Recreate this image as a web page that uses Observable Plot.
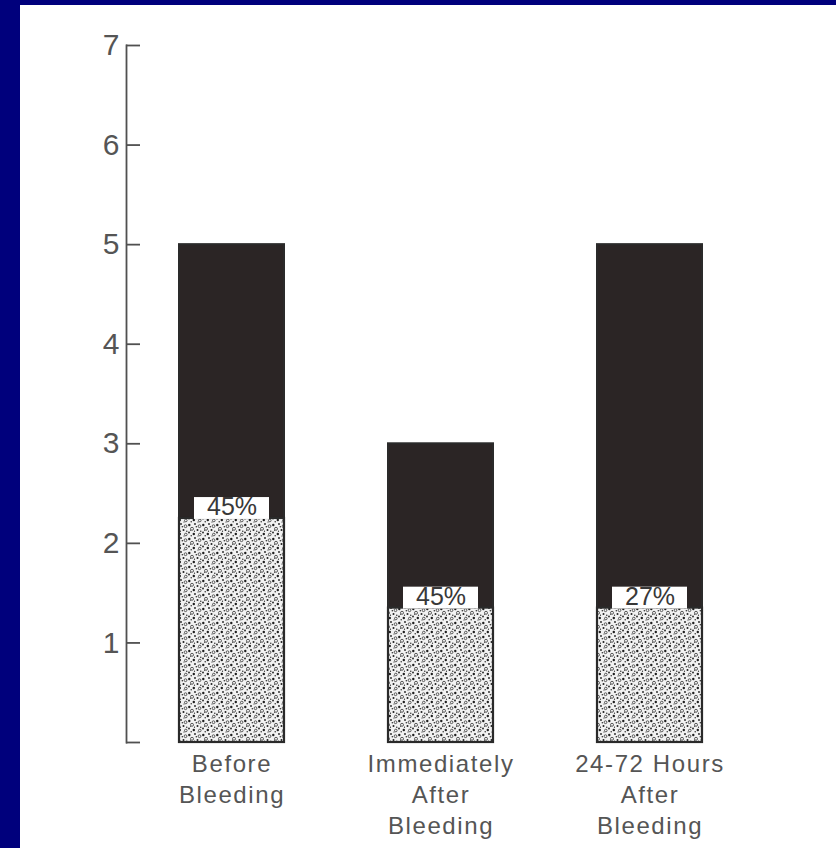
<!DOCTYPE html>
<html>
<head>
<meta charset="utf-8">
<script src="https://cdn.jsdelivr.net/npm/d3@7"></script>
<script src="https://cdn.jsdelivr.net/npm/@observablehq/plot@0.6"></script>
<style>
  html, body { margin: 0; padding: 0; background: #00007c; width: 836px; height: 848px; overflow: hidden; }
  #panel { position: absolute; left: 20px; top: 5px; width: 816px; height: 843px; background: #ffffff; }
  #panel svg g[aria-label="x-axis tick label"] text { letter-spacing: 1.6px; }
</style>
</head>
<body>
<div id="panel"></div>
<script>
// Categories (x axis labels, multi-line)
const categories = ["Before\nBleeding", "Immediately\nAfter\nBleeding", "24-72 Hours\nAfter\nBleeding"];
const totalValues = [5.0, 3.0, 5.0];
// Height of the lower stippled segment
const lowerValues = [2.25, 1.35, 1.35];
// Percentage labels at the top of the stippled segment
const percentLabels = ["45%", "45%", "27%"];
// Y tick values
const yTicks = [0, 1, 2, 3, 4, 5, 6, 7];

const rows = categories.map((c, i) => ({
  cat: c,
  total: totalValues[i],
  lower: lowerValues[i],
  label: percentLabels[i]
}));

const plot = Plot.plot({
  width: 816,
  height: 843,
  marginLeft: 106,
  marginRight: 81,
  marginTop: 40,
  marginBottom: 106,
  style: { background: "white", fontFamily: "'Liberation Sans', Arial, sans-serif", color: "#4a4a4a" },
  x: { domain: categories, paddingInner: 0.5, paddingOuter: 0.25, label: null },
  y: { domain: [0, 7], label: null },
  marks: [
    Plot.frame({ anchor: "left", stroke: "#505050", strokeWidth: 1.8 }),
    Plot.axisY({
      ticks: yTicks,
      tickSize: -14,
      tickPadding: 21,
      strokeWidth: 1.8,
      stroke: "#505050",
      fontSize: 30,
      fill: "#555",
      tickFormat: d => d === 0 ? "" : String(d),
      label: null
    }),
    Plot.axisX({
      tickSize: 0,
      tickPadding: 7,
      fontSize: 24,
      lineHeight: 1.3,
      fill: "#555",
      label: null
    }),
    // Full bar (dark upper portion)
    Plot.barY(rows, { x: "cat", y1: 0, y2: "total", fill: "#2b2525", stroke: "#2a2a2a", strokeWidth: 2 }),
    // Lower stippled portion
    Plot.barY(rows, { x: "cat", y1: 0, y2: "lower", fill: "url(#stipple)", stroke: "#2a2a2a", strokeWidth: 2.2 }),
    // White label box
    Plot.barY(rows, { x: "cat", y1: d => d.lower - 0.01, y2: d => d.lower + 0.21, fill: "white", insetLeft: 15, insetRight: 15 }),
    // Percentage labels
    Plot.text(rows, { x: "cat", y: "lower", text: "label", lineAnchor: "bottom", dy: -3, fontSize: 25, fill: "#383838" })
  ]
});

// stipple pattern definition
const svg = d3.select(plot.tagName.toLowerCase() === "svg" ? plot : plot.querySelector("svg"));
const defs = svg.insert("defs", ":first-child");
const pat = defs.append("pattern")
  .attr("id", "stipple")
  .attr("patternUnits", "userSpaceOnUse")
  .attr("width", 14).attr("height", 14);
pat.append("rect").attr("width", 14).attr("height", 14).attr("fill", "#f2f2f2");
const dots = [
  [1.3, 2, 1.2, "f"], [7, 1, 0.9, "f"], [11.5, 3.2, 1.4, "r"], [4, 5.8, 1.5, "r"],
  [9.5, 7, 1.0, "f"], [1, 9.5, 0.9, "f"], [5.8, 11, 1.2, "f"], [11.8, 11.5, 1.3, "r"],
  [8.3, 3.8, 0.7, "f"], [3.2, 12.8, 0.7, "f"], [12.8, 8.3, 0.7, "f"], [6.5, 8.2, 0.6, "f"],
  [2.5, 7.2, 0.5, "f"], [10, 13, 0.6, "f"]
];
dots.forEach(([cx, cy, r, t]) => {
  const c = pat.append("circle").attr("cx", cx).attr("cy", cy).attr("r", r);
  if (t === "f") c.attr("fill", "#1e1e1e");
  else c.attr("fill", "none").attr("stroke", "#333").attr("stroke-width", 0.8);
});

document.getElementById("panel").appendChild(plot);
</script>
</body>
</html>
